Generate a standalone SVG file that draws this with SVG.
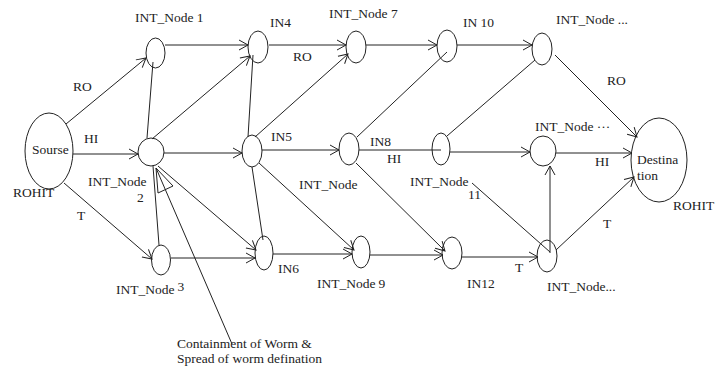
<svg xmlns="http://www.w3.org/2000/svg" width="722" height="369" viewBox="0 0 722 369">
<style>
.nd{fill:none;stroke:#222;stroke-width:1}
.ln{fill:none;stroke:#222;stroke-width:1}
.ar{marker-end:url(#ah)}
text{font-family:"Liberation Serif","Times New Roman",serif;font-size:13.5px;fill:#222}
</style>
<defs>
<marker id="ah" markerWidth="12" markerHeight="12" refX="10" refY="6" orient="auto" markerUnits="userSpaceOnUse">
<path d="M1,1 L10,6 L1,11" fill="none" stroke="#222" stroke-width="1"/>
</marker>
</defs>
<rect width="722" height="369" fill="#fff"/>
<g id="connectors">
<line class="ln ar" x1="66" y1="124" x2="146" y2="58"/>
<line class="ln ar" x1="73" y1="154" x2="138" y2="154"/>
<line class="ln ar" x1="64" y1="183" x2="152" y2="259"/>
<line class="ln ar" x1="165" y1="45" x2="248" y2="45"/>
<line class="ln" x1="147" y1="138" x2="153" y2="62"/>
<line class="ln ar" x1="152" y1="139" x2="250" y2="56"/>
<line class="ln ar" x1="164" y1="153" x2="242" y2="153"/>
<line class="ln ar" x1="158" y1="166" x2="256" y2="250"/>
<line class="ln" x1="153" y1="166" x2="159" y2="245"/>
<line class="ln ar" x1="171" y1="258" x2="255" y2="258"/>
<line class="ln" x1="253" y1="55" x2="248" y2="137"/>
<line class="ln ar" x1="269" y1="45" x2="346" y2="45"/>
<line class="ln ar" x1="255" y1="137" x2="348" y2="54"/>
<line class="ln ar" x1="262" y1="150" x2="339" y2="150"/>
<line class="ln" x1="252" y1="167" x2="263" y2="240"/>
<line class="ln ar" x1="259" y1="163" x2="354" y2="250"/>
<line class="ln ar" x1="273" y1="254" x2="352" y2="254"/>
<line class="ln ar" x1="366" y1="45" x2="437" y2="45"/>
<line class="ln" x1="357" y1="137" x2="447" y2="52"/>
<line class="ln" x1="359" y1="150" x2="441" y2="150"/>
<line class="ln ar" x1="356" y1="163" x2="445" y2="251"/>
<line class="ln ar" x1="370" y1="255" x2="443" y2="255"/>
<line class="ln ar" x1="457" y1="45" x2="532" y2="45"/>
<line class="ln" x1="447" y1="136" x2="535" y2="60"/>
<line class="ln ar" x1="450" y1="152" x2="530" y2="152"/>
<line class="ln ar" x1="462" y1="257" x2="538" y2="257"/>
<line class="ln ar" x1="550" y1="253" x2="550" y2="166"/>
<line class="ln ar" x1="555" y1="55" x2="637" y2="137"/>
<line class="ln ar" x1="556" y1="153" x2="632" y2="153"/>
<line class="ln ar" x1="556" y1="250" x2="634" y2="177"/>
<line class="ln" x1="472" y1="183" x2="550" y2="252"/>
<line class="ln" x1="232" y1="344" x2="156" y2="168"/>
<polygon class="ln" points="156,168 158,193 173,186"/>
</g>
<g id="edge-labels">
<text x="73" y="91">RO</text>
<text x="84" y="143">HI</text>
<text x="77" y="220">T</text>
<text x="293" y="61">RO</text>
<text x="387" y="163">HI</text>
<text x="607" y="85">RO</text>
<text x="595" y="166">HI</text>
<text x="515" y="272">T</text>
<text x="603" y="228">T</text>
</g>
<g id="source">
<ellipse class="nd" cx="49" cy="151" rx="24" ry="38"/>
<text x="32" y="154">Sourse</text>
<text x="13" y="197">ROHIT</text>
</g>
<g id="node1">
<ellipse class="nd" cx="155.5" cy="53" rx="9.5" ry="15"/>
<text x="135" y="22">INT_Node 1</text>
</g>
<g id="node2">
<ellipse class="nd" cx="151" cy="152" rx="13" ry="14"/>
<text x="88" y="186">INT_Node</text>
<text x="137" y="202">2</text>
</g>
<g id="node3">
<ellipse class="nd" cx="161" cy="260" rx="9.5" ry="15"/>
<text x="116" y="294">INT_Node<tspan dx="3" dy="-3">3</tspan></text>
</g>
<g id="in4">
<ellipse class="nd" cx="258" cy="47" rx="10" ry="16"/>
<text x="270" y="27">IN4</text>
</g>
<g id="in5">
<ellipse class="nd" cx="252" cy="151" rx="10" ry="16"/>
<text x="271" y="141">IN5</text>
</g>
<g id="in6">
<ellipse class="nd" cx="264" cy="253" rx="9" ry="17"/>
<text x="278" y="273">IN6</text>
</g>
<g id="node7">
<ellipse class="nd" cx="356" cy="47" rx="10" ry="16"/>
<text x="329" y="18">INT_Node<tspan x="391">7</tspan></text>
</g>
<g id="in8">
<ellipse class="nd" cx="349" cy="149" rx="10" ry="16"/>
<text x="370" y="146">IN8</text>
<text x="299" y="189">INT_Node</text>
</g>
<g id="node9">
<ellipse class="nd" cx="361" cy="252" rx="9" ry="16"/>
<text x="317" y="288">INT_Node<tspan dx="3">9</tspan></text>
</g>
<g id="in10">
<ellipse class="nd" cx="447" cy="46" rx="10" ry="16"/>
<text x="463" y="27">IN 10</text>
</g>
<g id="node11">
<ellipse class="nd" cx="441" cy="149" rx="9" ry="16"/>
<text x="410" y="186">INT_Node</text>
<text x="468" y="199">11</text>
</g>
<g id="in12">
<ellipse class="nd" cx="452" cy="253" rx="10" ry="16"/>
<text x="467" y="288">IN12</text>
</g>
<g id="node-top">
<ellipse class="nd" cx="542" cy="49" rx="10" ry="16"/>
<text x="556" y="24">INT_Node ...</text>
</g>
<g id="node-mid">
<ellipse class="nd" cx="543" cy="151" rx="13" ry="15"/>
<text x="535" y="131">INT_Node ···</text>
</g>
<g id="node-bot">
<ellipse class="nd" cx="547" cy="256" rx="10" ry="16"/>
<text x="547" y="291">INT_Node...</text>
</g>
<g id="destination">
<ellipse class="nd" cx="659" cy="160" rx="28" ry="42"/>
<text x="637" y="164">Destina</text>
<text x="637" y="180">tion</text>
<text x="673" y="210">ROHIT</text>
</g>
<g id="note">
<text x="177" y="348">Containment of Worm &amp;</text>
<text x="177" y="363">Spread of worm defination</text>
</g>
</svg>
